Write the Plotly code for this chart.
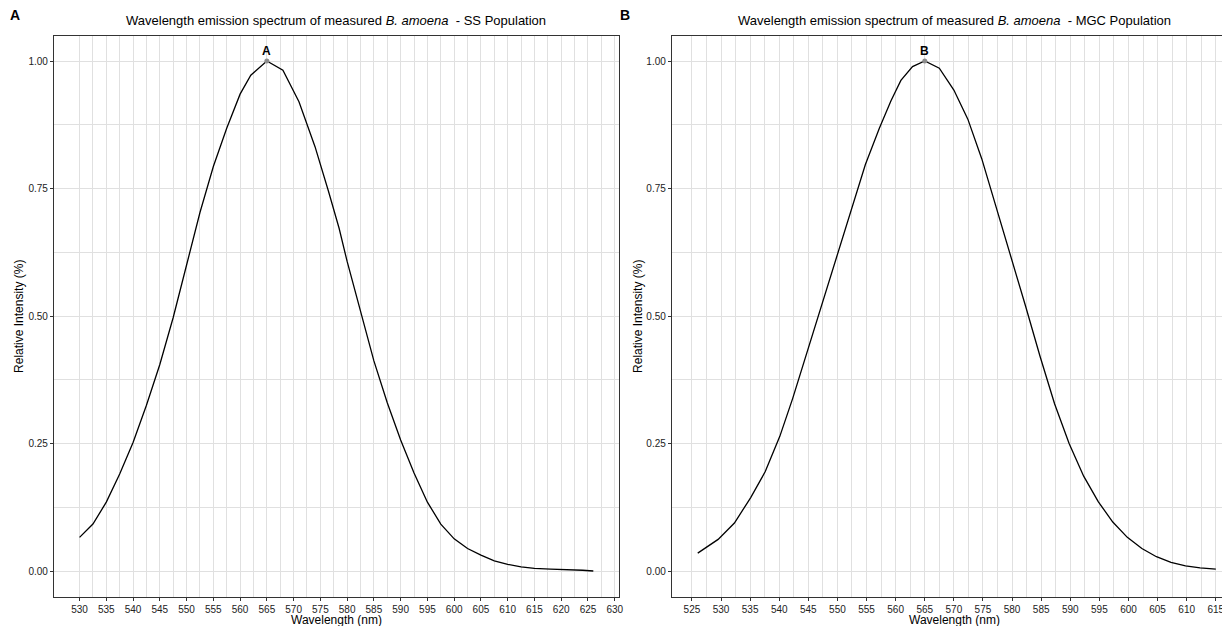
import plotly.graph_objects as go

# ---- Data ----
ss_wavelength = [530, 532.5, 535, 537.5, 540, 542.5, 545, 547.5, 550, 552.5, 555, 557.5,
                 560, 562, 565, 568, 571, 574, 576.5, 578.5, 580, 582.5, 585, 587.5, 590,
                 592.5, 595, 597.5, 600, 602.5, 605, 607.5, 610, 612.5, 615, 618, 621, 624, 626]
ss_intensity = [0.066, 0.092, 0.135, 0.19, 0.252, 0.325, 0.405, 0.497, 0.60, 0.703, 0.793, 0.868,
                0.935, 0.972, 1.0, 0.982, 0.92, 0.832, 0.745, 0.672, 0.607, 0.507, 0.412, 0.33, 0.257,
                0.192, 0.135, 0.092, 0.063, 0.044, 0.031, 0.02, 0.013, 0.008, 0.005, 0.0035, 0.003, 0.0015, 0.0]

mgc_wavelength = [526, 529.5, 532.3, 535.1, 537.6, 540.1, 542.3, 544.8, 547.3, 549.8, 552.3,
                  554.8, 557.2, 559.2, 560.9, 562.9, 565, 567.5, 570, 572.4, 574.8, 577.3,
                  579.8, 582.3, 584.8, 587.3, 589.8, 592.3, 594.8, 597.3, 599.8, 602.3, 604.8,
                  607.3, 609.8, 612.3, 615]
mgc_intensity = [0.035, 0.062, 0.094, 0.144, 0.195, 0.264, 0.338, 0.43, 0.522, 0.614, 0.707,
                 0.797, 0.868, 0.922, 0.962, 0.989, 1.0, 0.986, 0.943, 0.886, 0.808, 0.712,
                 0.62, 0.52, 0.421, 0.328, 0.25, 0.186, 0.136, 0.096, 0.066, 0.044, 0.028,
                 0.017, 0.010, 0.006, 0.0035]

peak_labels = ["A", "B"]
peak_wavelengths = [565, 565]
peak_values = [1.0, 1.0]

ss_xticks = list(range(530, 631, 5))
mgc_xticks = list(range(525, 616, 5))
y_ticks = [0.0, 0.25, 0.5, 0.75, 1.0]
y_ticklabels = ["0.00", "0.25", "0.50", "0.75", "1.00"]

titles = ["Wavelength emission spectrum of measured <i>B. amoena</i>  - SS Population",
          "Wavelength emission spectrum of measured <i>B. amoena</i>  - MGC Population"]

# ---- Layout geometry (page has an 8px body margin, so shift by -8) ----
W, H = 1230, 626
OFF = 8
FONT = "Liberation Sans, Arial, sans-serif"
GRID = "#e0e0e0"
BORDER = "#333333"


def px(x):
    return (x - OFF) / W


def py(y):
    return 1 - (y - OFF) / H


axA_x = [px(54), px(621)]
axB_x = [px(674), 1.0]
ax_y = [py(596.5), py(35.5)]
b_scale = 5.84  # pixels per nm in panel B
b_lo = 521.55
b_hi = b_lo + (W + OFF - 674) / b_scale

fig = go.Figure()

fig.add_trace(go.Scatter(x=ss_wavelength, y=ss_intensity, mode="lines",
                         line=dict(color="black", width=1.3), xaxis="x", yaxis="y",
                         showlegend=False, hoverinfo="skip"))
fig.add_trace(go.Scatter(x=mgc_wavelength, y=mgc_intensity, mode="lines",
                         line=dict(color="black", width=1.3), xaxis="x2", yaxis="y2",
                         showlegend=False, hoverinfo="skip"))
fig.add_trace(go.Scatter(x=[peak_wavelengths[0]], y=[peak_values[0]], mode="markers",
                         marker=dict(color="#8c8c8c", size=5), xaxis="x", yaxis="y",
                         showlegend=False))
fig.add_trace(go.Scatter(x=[peak_wavelengths[1]], y=[peak_values[1]], mode="markers",
                         marker=dict(color="#8c8c8c", size=5), xaxis="x2", yaxis="y2",
                         showlegend=False))

common_x = dict(showgrid=True, gridcolor=GRID, gridwidth=1, zeroline=False,
                ticks="outside", ticklen=3, tickcolor=BORDER, tickwidth=1,
                tickfont=dict(family=FONT, size=10, color="#222222"),
                showline=True, linecolor=BORDER, linewidth=1, mirror=True)
common_y = dict(showgrid=True, gridcolor=GRID, gridwidth=1, zeroline=False,
                ticks="outside", ticklen=3, tickcolor=BORDER, tickwidth=1,
                tickfont=dict(family=FONT, size=10, color="#222222"),
                tickvals=y_ticks, ticktext=y_ticklabels, range=[-0.05, 1.05],
                minor=dict(tickvals=[0.125, 0.375, 0.625, 0.875], showgrid=True,
                           gridcolor=GRID, gridwidth=1, ticks=""),
                showline=True, linecolor=BORDER, linewidth=1,
                domain=ax_y)

fig.update_layout(
    width=W, height=H,
    margin=dict(l=0, r=0, t=0, b=0),
    paper_bgcolor="white", plot_bgcolor="white",
    xaxis=dict(common_x, domain=axA_x, range=[525.2, 630.8], tickvals=ss_xticks,
               minor=dict(tickvals=[v + 2.5 for v in ss_xticks], showgrid=True,
                          gridcolor=GRID, gridwidth=1, ticks=""),
               anchor="y"),
    yaxis=dict(common_y, anchor="x", mirror=True),
    xaxis2=dict(common_x, domain=axB_x, range=[b_lo, b_hi],
                tickvals=mgc_xticks,
                minor=dict(tickvals=[v + 2.5 for v in mgc_xticks], showgrid=True,
                           gridcolor=GRID, gridwidth=1, ticks=""),
                anchor="y2"),
    yaxis2=dict(common_y, anchor="x2", mirror=True),
)

ann = []
ann.append(dict(text="<b>A</b>", x=px(8), y=py(15), xref="paper", yref="paper",
                xanchor="left", yanchor="middle", showarrow=False,
                font=dict(family=FONT, size=14, color="black")))
ann.append(dict(text="<b>B</b>", x=px(620), y=py(15), xref="paper", yref="paper",
                xanchor="left", yanchor="middle", showarrow=False,
                font=dict(family=FONT, size=14, color="black")))
ann.append(dict(text=titles[0], x=px(337.5), y=py(20), xref="paper", yref="paper",
                xanchor="center", yanchor="middle", showarrow=False,
                font=dict(family=FONT, size=13, color="black")))
ann.append(dict(text=titles[1], x=px(958), y=py(20), xref="paper", yref="paper",
                xanchor="center", yanchor="middle", showarrow=False,
                font=dict(family=FONT, size=13, color="black")))
for cx in (337.5, 958):
    ann.append(dict(text="Wavelength (nm)", x=px(cx), y=py(620), xref="paper", yref="paper",
                    xanchor="center", yanchor="middle", showarrow=False,
                    font=dict(family=FONT, size=12, color="black")))
for cx in (19, 640):
    ann.append(dict(text="Relative Intensity (%)", x=px(cx), y=py(316), xref="paper",
                    yref="paper", xanchor="center", yanchor="middle", showarrow=False,
                    textangle=-90, font=dict(family=FONT, size=12, color="black")))
ann.append(dict(text="<b>%s</b>" % peak_labels[0], x=peak_wavelengths[0], y=peak_values[0],
                xref="x", yref="y", xanchor="center", yanchor="bottom", yshift=1,
                showarrow=False, font=dict(family=FONT, size=12, color="black")))
ann.append(dict(text="<b>%s</b>" % peak_labels[1], x=peak_wavelengths[1], y=peak_values[1],
                xref="x2", yref="y2", xanchor="center", yanchor="bottom", yshift=1,
                showarrow=False, font=dict(family=FONT, size=12, color="black")))
fig.update_layout(annotations=ann)

fig.write_html("out.html")
